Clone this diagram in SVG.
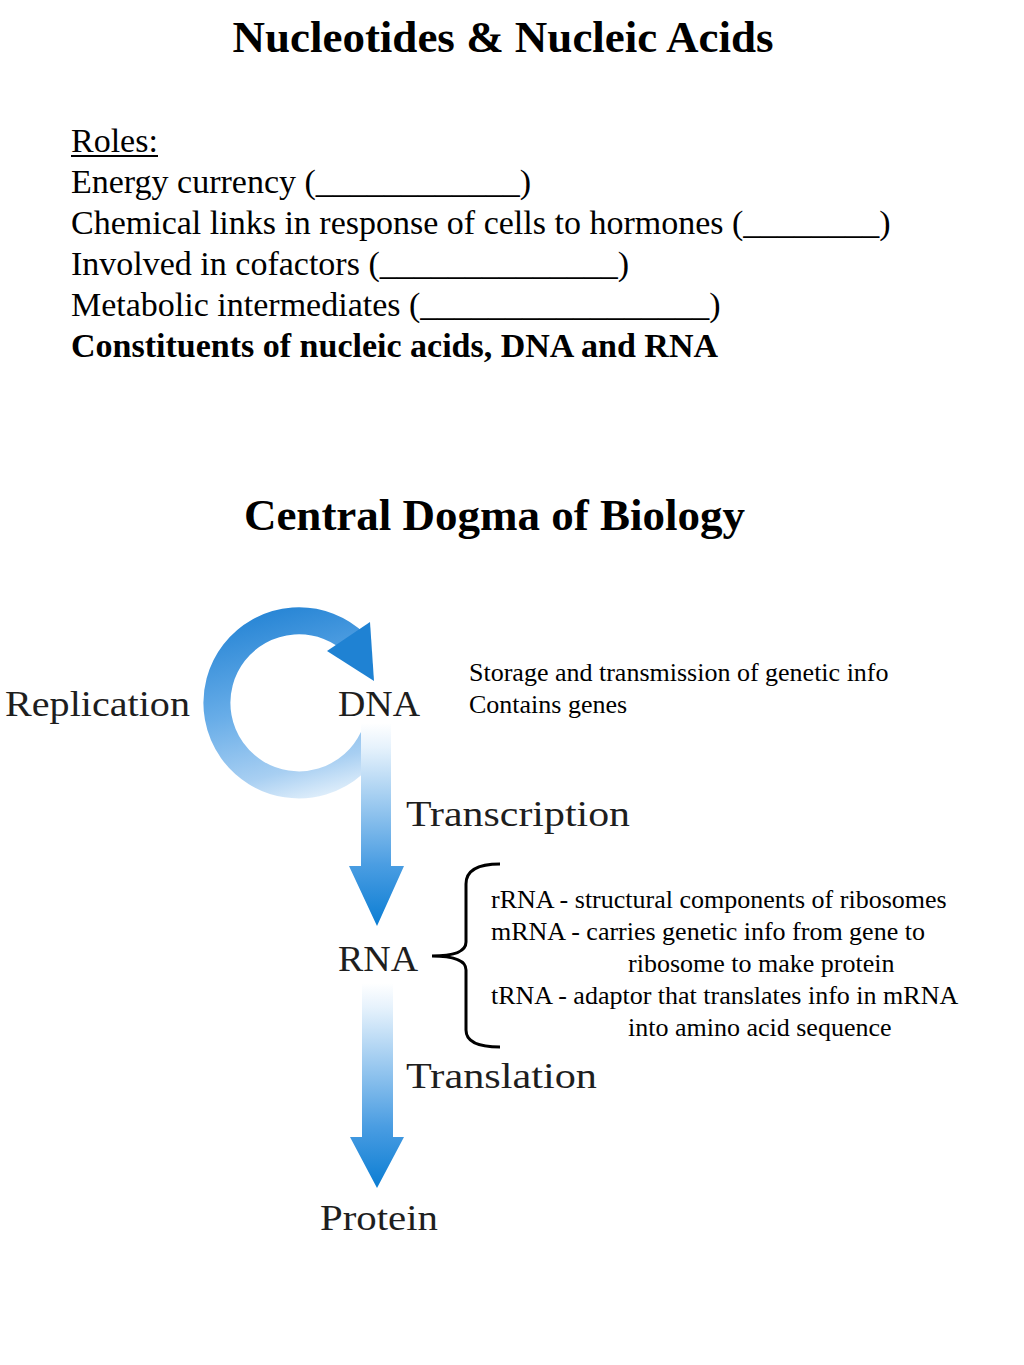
<svg xmlns="http://www.w3.org/2000/svg" width="1024" height="1365" viewBox="0 0 1024 1365">
<style>
.t{font-family:"Liberation Serif","Times New Roman",serif;fill:#000}
.b{font-weight:bold}
.lbl{font-family:"Liberation Serif","Times New Roman",serif;fill:#1e1e1e;font-size:36px}
.note{font-family:"Liberation Serif","Times New Roman",serif;fill:#000;font-size:26px}
</style>
<defs>
<linearGradient id="ringG" gradientUnits="userSpaceOnUse" x1="320" y1="600" x2="370" y2="790">
<stop offset="0" stop-color="#2a87d6"/>
<stop offset="0.45" stop-color="#68ade8"/>
<stop offset="0.8" stop-color="#a8cff2"/>
<stop offset="1" stop-color="#e8f3fc"/>
</linearGradient>
<linearGradient id="arr1" gradientUnits="userSpaceOnUse" x1="0" y1="723" x2="0" y2="926">
<stop offset="0" stop-color="#ffffff"/>
<stop offset="0.12" stop-color="#e6f2fc"/>
<stop offset="0.7" stop-color="#4a9de2"/>
<stop offset="1" stop-color="#0b7dd3"/>
</linearGradient>
<linearGradient id="arr2" gradientUnits="userSpaceOnUse" x1="0" y1="983" x2="0" y2="1188">
<stop offset="0" stop-color="#ffffff"/>
<stop offset="0.12" stop-color="#e6f2fc"/>
<stop offset="0.7" stop-color="#4a9de2"/>
<stop offset="1" stop-color="#0b7dd3"/>
</linearGradient>
</defs>
<rect width="1024" height="1365" fill="#ffffff"/>

<g id="title1">
<text class="t b" x="503" y="52" font-size="45" text-anchor="middle">Nucleotides &amp; Nucleic Acids</text>
</g>

<g id="roles">
<text class="t" x="71" y="152" font-size="34">Roles:</text>
<line x1="71" y1="156" x2="158" y2="156" stroke="#000" stroke-width="2"/>
<text class="t" x="71" y="193" font-size="34">Energy currency (____________)</text>
<text class="t" x="71" y="234" font-size="34">Chemical links in response of cells to hormones (________)</text>
<text class="t" x="71" y="275" font-size="34">Involved in cofactors (______________)</text>
<text class="t" x="71" y="316" font-size="34">Metabolic intermediates (_________________)</text>
<text class="t b" x="71" y="357" font-size="34">Constituents of nucleic acids, DNA and RNA</text>
</g>

<g id="title2">
<text class="t b" x="494.5" y="530" font-size="45" text-anchor="middle">Central Dogma of Biology</text>
</g>

<g id="connectors">
<path id="replication-ring" d="M356 644 A82 82 0 1 0 373 738" fill="none" stroke="url(#ringG)" stroke-width="27"/>
<polygon id="replication-head" points="370,622 327,651 374,681" fill="#1f82d3"/>
<path id="transcription-arrow" d="M361 723 H391 V866 H404 L377 926 L349 866 H361 Z" fill="url(#arr1)"/>
<path id="translation-arrow" d="M362 983 H393 V1137 H404 L377 1188 L350 1137 H362 Z" fill="url(#arr2)"/>
<path id="brace" d="M500 864 C478 864 466 870 466 884 L466 942 C466 952 452 956 432 956 C452 956 466 960 466 970 L466 1030 C466 1042 478 1047 500 1047" fill="none" stroke="#000" stroke-width="3"/>
</g>

<g id="node-replication"><text class="lbl" x="5" y="716" textLength="185" lengthAdjust="spacingAndGlyphs">Replication</text></g>
<g id="node-dna"><text class="lbl" x="338" y="716" textLength="82" lengthAdjust="spacingAndGlyphs">DNA</text></g>
<g id="node-transcription"><text class="lbl" x="406" y="826" textLength="224" lengthAdjust="spacingAndGlyphs">Transcription</text></g>
<g id="node-rna"><text class="lbl" x="338" y="971" textLength="80" lengthAdjust="spacingAndGlyphs">RNA</text></g>
<g id="node-translation"><text class="lbl" x="406" y="1088" textLength="191" lengthAdjust="spacingAndGlyphs">Translation</text></g>
<g id="node-protein"><text class="lbl" x="320" y="1230" textLength="118" lengthAdjust="spacingAndGlyphs">Protein</text></g>

<g id="dna-notes">
<text class="note" x="469" y="681">Storage and transmission of genetic info</text>
<text class="note" x="469" y="713">Contains genes</text>
</g>

<g id="rna-notes">
<text class="note" x="491" y="908">rRNA - structural components of ribosomes</text>
<text class="note" x="491" y="940">mRNA - carries genetic info from gene to</text>
<text class="note" x="628" y="972">ribosome to make protein</text>
<text class="note" x="491" y="1004">tRNA - adaptor that translates info in mRNA</text>
<text class="note" x="628" y="1036">into amino acid sequence</text>
</g>
</svg>
